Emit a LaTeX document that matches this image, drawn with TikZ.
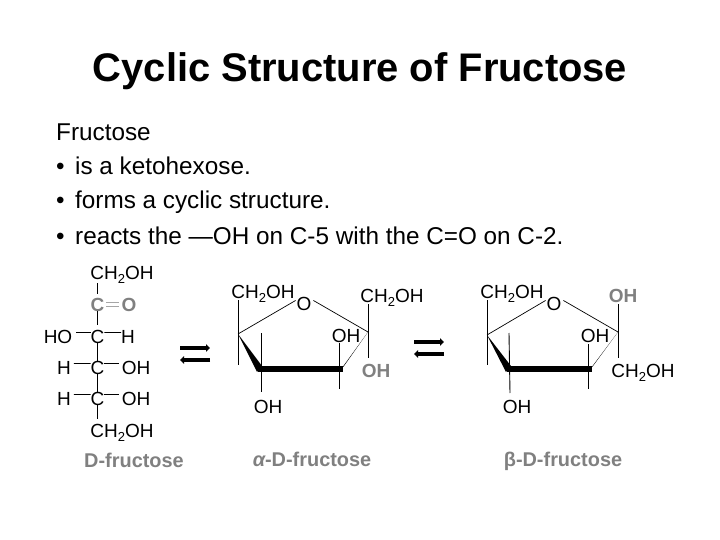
\documentclass[tikz,border=0pt]{standalone}
\usepackage{fontspec}
\setmainfont{Liberation Sans}
\usetikzlibrary{arrows.meta}
\definecolor{hl}{HTML}{808080}
\tikzset{
  atom/.style={anchor=base,inner sep=0pt,outer sep=0pt,font=\fontsize{19}{20}\selectfont,text=black},
  hatom/.style={atom,font=\bfseries\fontsize{19}{20}\selectfont,text=hl},
  namelabel/.style={anchor=base,inner sep=0pt,font=\bfseries\fontsize{19.9}{21}\selectfont,text=hl},
  bodytext/.style={anchor=base west,inner sep=0pt,font=\fontsize{24.3}{26}\selectfont},
  titletext/.style={anchor=base,inner sep=0pt,font=\bfseries\fontsize{39.9}{42}\selectfont},
  bond/.style={line width=0.9pt,black},
  hbond/.style={line width=0.8pt,hl!70},
  eqarrow/.style={line width=4.2pt,black,-{Triangle[length=4pt,width=7.5pt]}},
  wedgefill/.style={fill=black,draw=none}
}
\newcommand{\chtwo}{CH\raisebox{-4pt}{\fontsize{13}{13}\selectfont 2}OH}
\begin{document}
\begin{tikzpicture}[x=1pt,y=-1pt]
\useasboundingbox (0,0) rectangle (720,540);
\node[titletext] (title) at (360,82) {Cyclic Structure of Fructose};
\node[bodytext] (l1) at (56,141) {Fructose};
\node[bodytext] (b2) at (56,175) {•};
\node[bodytext] (l2) at (75,175) {is a ketohexose.};
\node[bodytext] (b3) at (56,208) {•};
\node[bodytext] (l3) at (75,208) {forms a cyclic structure.};
\node[bodytext] (b4) at (56,244) {•};
\node[bodytext] (l4) at (75,244) {reacts the —OH on C-5 with the C=O on C-2.};

% open chain
\node[atom] (ftop) at (122,279) {\chtwo};
\node[hatom] (c2) at (97.5,311) {C};
\node[hatom] (o2) at (129,311) {O};
\node[atom] (ho3) at (58,343) {HO};
\node[atom] (c3) at (97.5,343) {C};
\node[atom] (h3) at (128,343) {H};
\node[atom] (h4) at (64,374) {H};
\node[atom] (c4) at (97.5,374) {C};
\node[atom] (oh4) at (136,374) {OH};
\node[atom] (h5) at (64,405) {H};
\node[atom] (c5) at (97.5,405) {C};
\node[atom] (oh5) at (136,405) {OH};
\node[atom] (fbot) at (122,437) {\chtwo};
\node[namelabel] (dname) at (134,467) {D-fructose};
\draw[bond,shorten >=4pt] (c2 |- ftop.south) -- (c2);
\draw[bond,shorten >=5pt] (c2) -- (c3);
\draw[bond] (c3) -- (c4);
\draw[bond] (c4) -- (c5);
\draw[bond,shorten >=5pt] (c5) -- (c5 |- fbot.north);
\draw[hbond] ([xshift=2pt,yshift=-2pt]c2.east) -- ([xshift=-3pt,yshift=-2pt]o2.west);
\draw[hbond] ([xshift=2pt,yshift=2pt]c2.east) -- ([xshift=-3pt,yshift=2pt]o2.west);
\draw[bond] ([xshift=4pt,yshift=4pt]ho3.east) -- ([yshift=4pt]c3.west);
\draw[bond] ([yshift=4pt]c3.east) -- ([yshift=4pt]h3.west);
\draw[bond] ([xshift=3pt,yshift=4pt]h4.east) -- ([yshift=4pt]c4.west);
\draw[bond] ([yshift=4pt]c4.east) -- ([xshift=-3pt,yshift=4pt]oh4.west);
\draw[bond] ([xshift=3pt,yshift=4pt]h5.east) -- ([yshift=4pt]c5.west);
\draw[bond] ([yshift=4pt]c5.east) -- ([xshift=-3pt,yshift=4pt]oh5.west);

% equilibrium arrows
\coordinate (e1a) at (180,348); \coordinate (e1b) at (210,348);
\coordinate (e1c) at (210,360); \coordinate (e1d) at (180,360);
\draw[eqarrow] (e1a) -- (e1b);
\draw[eqarrow] (e1c) -- (e1d);
\coordinate (e2a) at (414,342); \coordinate (e2b) at (444,342);
\coordinate (e2c) at (444,354); \coordinate (e2d) at (414,354);
\draw[eqarrow] (e2a) -- (e2b);
\draw[eqarrow] (e2c) -- (e2d);

% alpha ring
\node[atom] (al) at (263,298) {\chtwo};
\node[atom] (ao) at (304,310) {O};
\node[atom] (ar) at (392,302) {\chtwo};
\node[atom] (ai) at (346,342) {OH};
\node[hatom] (ag) at (376,377) {OH};
\node[atom] (ab) at (268,413) {OH};
\node[namelabel] (aname) at (312,466) {{\itshape α}-D-fructose};
\coordinate (aL) at (238,334); \coordinate (aR) at (368,332);
\coordinate (aBL) at (259,369); \coordinate (aBR) at (341,369);
\draw[bond,line width=0.7pt] (aL) -- ([xshift=-1pt,yshift=3pt]ao.west);
\draw[bond,line width=0.7pt] ([xshift=2pt,yshift=3pt]ao.east) -- (aR);
\fill[wedgefill] (aL) -- (262,366) -- (257,372) -- cycle;
\fill[wedgefill] (aR) -- (344,366) -- (339,372) -- cycle;
\fill[wedgefill] (258,366) rectangle (343,372);
\coordinate (a1) at (238,300); \coordinate (a2) at (238,365);
\coordinate (a3) at (261,333); \coordinate (a4) at (261,392);
\coordinate (a5) at (339,343); \coordinate (a6) at (339,389);
\coordinate (a7) at (368,304); \coordinate (a8) at (368,358);
\draw[bond] (a1) -- (a2);
\draw[bond] (a3) -- (a4);
\draw[bond] (a5) -- (a6);
\draw[bond] (a7) -- (a8);

% beta ring
\node[atom] (bl) at (512,298) {\chtwo};
\node[atom] (bo) at (554,310) {O};
\node[hatom] (bg) at (623,302) {OH};
\node[atom] (bi) at (595,342) {OH};
\node[atom] (br) at (643,377) {\chtwo};
\node[atom] (bb) at (517,413) {OH};
\node[namelabel] (bname) at (563,466) {β-D-fructose};
\coordinate (bL) at (487,335); \coordinate (bR) at (618,332);
\coordinate (bBL) at (509,369); \coordinate (bBR) at (590,369);
\draw[bond,line width=0.7pt] (bL) -- ([xshift=-1pt,yshift=3pt]bo.west);
\draw[bond,line width=0.7pt] ([xshift=2pt,yshift=3pt]bo.east) -- (bR);
\fill[wedgefill] (bL) -- (511,366) -- (506,372) -- cycle;
\fill[wedgefill] (bR) -- (593,366) -- (588,372) -- cycle;
\fill[wedgefill] (507,366) rectangle (592,372);
\coordinate (b1) at (487,300); \coordinate (b2) at (487,365);
\coordinate (b3) at (509,333); \coordinate (b4) at (510,393);
\coordinate (b5) at (588,344); \coordinate (b6) at (588,389);
\coordinate (b7) at (618,304); \coordinate (b8) at (618,358);
\draw[bond] (b1) -- (b2);
\draw[bond] (b3) -- (b4);
\draw[bond] (b5) -- (b6);
\draw[bond] (b7) -- (b8);
\end{tikzpicture}
\end{document}
